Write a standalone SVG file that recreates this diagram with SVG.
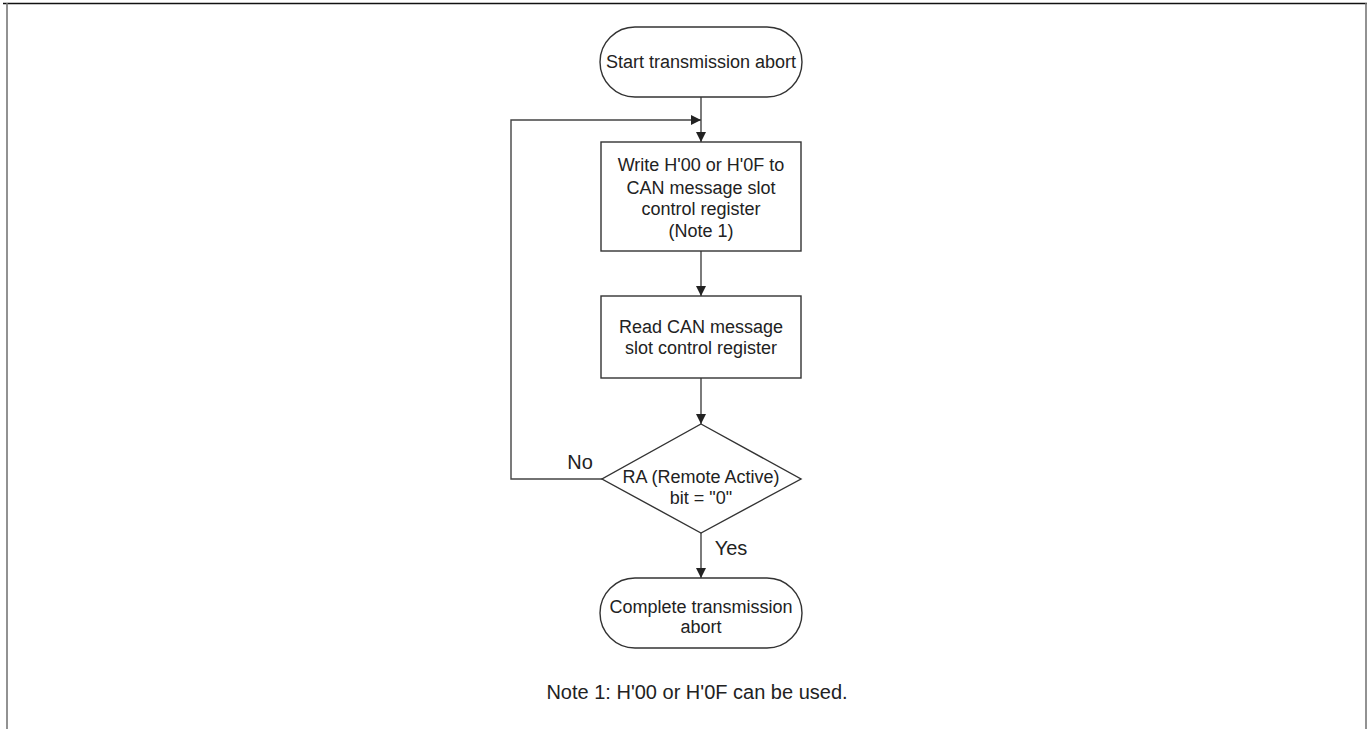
<svg xmlns="http://www.w3.org/2000/svg" width="1372" height="729" viewBox="0 0 1372 729">
<defs>
<style>
.shape{fill:#fff;stroke:#333;stroke-width:1.4}
.conn{fill:none;stroke:#444;stroke-width:1.4}
text{font-family:"Liberation Sans",Arial,sans-serif;font-size:18px;fill:#222;text-anchor:middle}
.lbl{font-size:20px}
</style>
<marker id="arr" viewBox="0 0 10 10" refX="10" refY="5" markerWidth="10" markerHeight="10" markerUnits="userSpaceOnUse" orient="auto">
<path d="M0,0 L10,5 L0,10 Z" fill="#222"/>
</marker>
</defs>
<rect width="1372" height="729" fill="#fff"/>
<g id="frame">
<line x1="3" y1="3.5" x2="1367" y2="3.5" stroke="#111" stroke-width="1.5"/>
<line x1="7" y1="3" x2="7" y2="729" stroke="#777" stroke-width="1.6"/>
<line x1="1366" y1="3" x2="1366" y2="729" stroke="#777" stroke-width="1.6"/>
</g>
<g id="connectors">
<line class="conn" x1="701" y1="97" x2="701" y2="142" marker-end="url(#arr)"/>
<line class="conn" x1="701" y1="251" x2="701" y2="296" marker-end="url(#arr)"/>
<line class="conn" x1="701" y1="378" x2="701" y2="424" marker-end="url(#arr)"/>
<line class="conn" x1="701" y1="533" x2="701" y2="578" marker-end="url(#arr)"/>
<polyline class="conn" points="602,479 511,479 511,120 701,120" marker-end="url(#arr)"/>
<text class="lbl" x="580" y="469">No</text>
<text class="lbl" x="731" y="555">Yes</text>
</g>
<g id="start">
<rect class="shape" x="600" y="27" width="202" height="70" rx="35" ry="35"/>
<text x="701" y="68">Start transmission abort</text>
</g>
<g id="write">
<rect class="shape" x="601" y="142" width="200" height="109"/>
<text x="701" y="171">Write H'00 or H'0F to</text>
<text x="701" y="194">CAN message slot</text>
<text x="701" y="215">control register</text>
<text x="701" y="237">(Note 1)</text>
</g>
<g id="read">
<rect class="shape" x="601" y="296" width="200" height="82"/>
<text x="701" y="333">Read CAN message</text>
<text x="701" y="354">slot control register</text>
</g>
<g id="decision">
<polygon class="shape" points="701,424 801,479 701,533 602,479"/>
<text x="701" y="483">RA (Remote Active)</text>
<text x="701" y="504">bit = "0"</text>
</g>
<g id="end">
<rect class="shape" x="600" y="578" width="202" height="70" rx="35" ry="35"/>
<text x="701" y="613">Complete transmission</text>
<text x="701" y="633">abort</text>
</g>
<g id="note">
<text class="lbl" x="697" y="699">Note 1: H'00 or H'0F can be used.</text>
</g>
</svg>
